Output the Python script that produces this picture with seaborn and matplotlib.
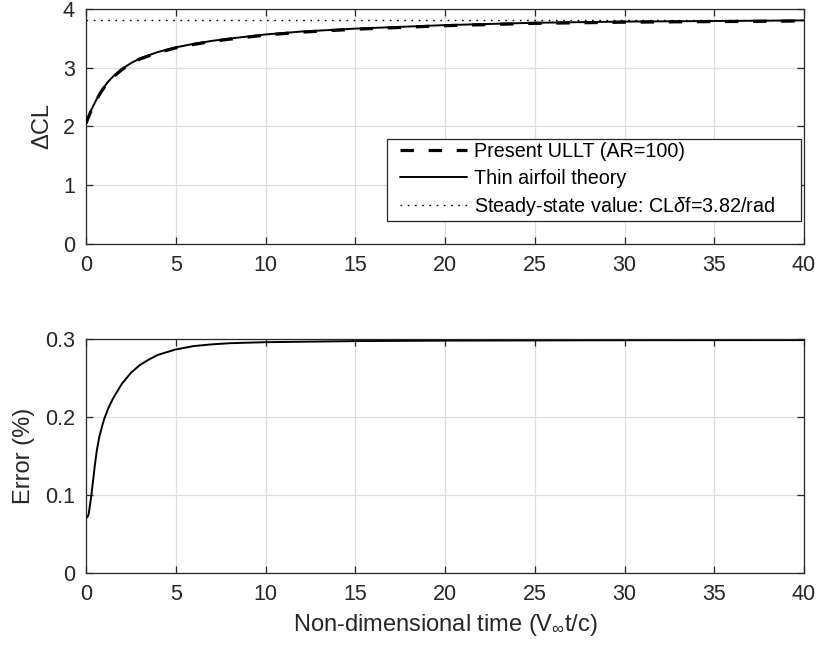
import numpy as np
import pandas as pd
import matplotlib
matplotlib.use("Agg")
import matplotlib.pyplot as plt
import seaborn as sns
from matplotlib.legend_handler import HandlerLine2D

# ---- data ----
t_cl = [0, 0.1, 0.25, 0.4, 0.6, 0.8, 1, 1.25, 1.5, 2, 2.5, 3, 4, 5, 6, 7, 8, 10, 12, 15, 20, 25, 30, 35, 40]
cl_thin = [2.06, 2.14, 2.25, 2.35, 2.47, 2.58, 2.67, 2.77, 2.85, 2.98, 3.08, 3.16, 3.27, 3.35, 3.41, 3.46,
           3.50, 3.57, 3.62, 3.67, 3.73, 3.77, 3.79, 3.80, 3.81]
cl_ullt = [2.05, 2.13, 2.24, 2.34, 2.46, 2.57, 2.66, 2.76, 2.84, 2.97, 3.07, 3.15, 3.26, 3.34, 3.40, 3.45,
           3.49, 3.56, 3.61, 3.66, 3.72, 3.76, 3.78, 3.79, 3.80]
cl_steady = 3.82

t_err = [0, 0.1, 0.15, 0.2, 0.3, 0.4, 0.5, 0.6, 0.75, 1, 1.25, 1.5, 2, 2.5, 3, 3.5, 4, 5, 6, 7, 8, 10, 15,
         20, 30, 40]
err = [0.0705, 0.073, 0.076, 0.084, 0.100, 0.120, 0.140, 0.157, 0.176, 0.197, 0.212, 0.224, 0.243, 0.257,
       0.267, 0.274, 0.280, 0.287, 0.2913, 0.2935, 0.295, 0.2963, 0.2977, 0.2983, 0.2988, 0.299]

xticks = [0, 5, 10, 15, 20, 25, 30, 35, 40]
yticks_top = [0, 1, 2, 3, 4]
yticks_bot = [0, 0.1, 0.2, 0.3]
yticklabels_bot = ["0", "0.1", "0.2", "0.3"]

labels = ["Present ULLT (AR=100)", "Thin airfoil theory", r"Steady-state value: CL$\delta$f=3.82/rad"]

# ---- style ----
sns.set_style("ticks")
plt.rcParams["font.family"] = ["Liberation Sans", "DejaVu Sans"]
plt.rcParams["mathtext.fontset"] = "custom"
plt.rcParams["mathtext.rm"] = "Liberation Sans"
plt.rcParams["mathtext.it"] = "Liberation Sans:italic"
plt.rcParams["mathtext.bf"] = "Liberation Sans:bold"

dark = "#262626"
gridc = "#dedede"


class OffsetLineHandler(HandlerLine2D):
    """Legend line sample that starts a little to the right (MATLAB-like inset)."""
    def __init__(self, offset_pt=7.2, **kw):
        super().__init__(**kw)
        self.offset_pt = offset_pt

    def create_artists(self, legend, orig_handle, xdescent, ydescent, width, height, fontsize, trans):
        off = self.offset_pt
        return super().create_artists(legend, orig_handle, xdescent - off, ydescent,
                                      width - off, height, fontsize, trans)


fig = plt.figure(figsize=(8.17, 6.52), dpi=100)
ax1 = fig.add_axes([86 / 817, 1 - 243.5 / 652, 718 / 817, 234.2 / 652])
ax2 = fig.add_axes([86 / 817, 1 - 573.3 / 652, 718 / 817, 234.0 / 652])

df_cl = pd.DataFrame({"t": t_cl, "thin": cl_thin, "ullt": cl_ullt})
df_err = pd.DataFrame({"t": t_err, "err": err})

# top panel
sns.lineplot(data=df_cl, x="t", y="ullt", ax=ax1, color="black", lw=2.3,
             label=labels[0], zorder=3)
ax1.lines[-1].set_dashes([4.2, 4.6])
sns.lineplot(data=df_cl, x="t", y="thin", ax=ax1, color="black", lw=1.4,
             label=labels[1], zorder=4)
ax1.axhline(cl_steady, color="black", lw=1.0, ls=(0, (1.2, 4.0)), label=labels[2], zorder=2)

ax1.set_xlim(0, 40)
ax1.set_ylim(0, 4)
ax1.set_xticks(xticks)
ax1.set_yticks(yticks_top)
ax1.set_xlabel("")
ax1.set_ylabel("\u0394CL", fontsize=17, color=dark, labelpad=7)

handles, labs = ax1.get_legend_handles_labels()
leg = ax1.legend(handles, labs, loc="lower left", bbox_to_anchor=(0.419, 0.096, 0.577, 0.35),
                 mode="expand", fontsize=14.2,
                 frameon=True, fancybox=False, edgecolor=dark, framealpha=1,
                 handlelength=3.9, handletextpad=0.35, borderpad=0.15, labelspacing=0.38,
                 borderaxespad=0,
                 handler_map={h: OffsetLineHandler() for h in handles})
leg.get_frame().set_linewidth(0.9)
for txt in leg.get_texts():
    txt.set_color("black")

# bottom panel
sns.lineplot(data=df_err, x="t", y="err", ax=ax2, color="black", lw=1.4)
ax2.set_xlim(0, 40)
ax2.set_ylim(0, 0.3)
ax2.set_xticks(xticks)
ax2.set_yticks(yticks_bot)
ax2.set_yticklabels(yticklabels_bot)
ax2.set_ylabel("Error (%)", fontsize=17, color=dark, labelpad=7)
ax2.set_xlabel(r"Non-dimensional time (V$_{\infty}$t/c)", fontsize=17, color=dark, labelpad=5)

for ax in (ax1, ax2):
    ax.grid(True, color=gridc, lw=0.9)
    ax.set_axisbelow(True)
    for s in ax.spines.values():
        s.set_visible(True)
        s.set_color(dark)
        s.set_linewidth(0.9)
    ax.tick_params(direction="in", length=5, width=0.9, colors=dark, labelsize=15.5,
                   top=True, right=True, pad=8, labelcolor=dark)

fig.savefig("out.png", dpi=100)
